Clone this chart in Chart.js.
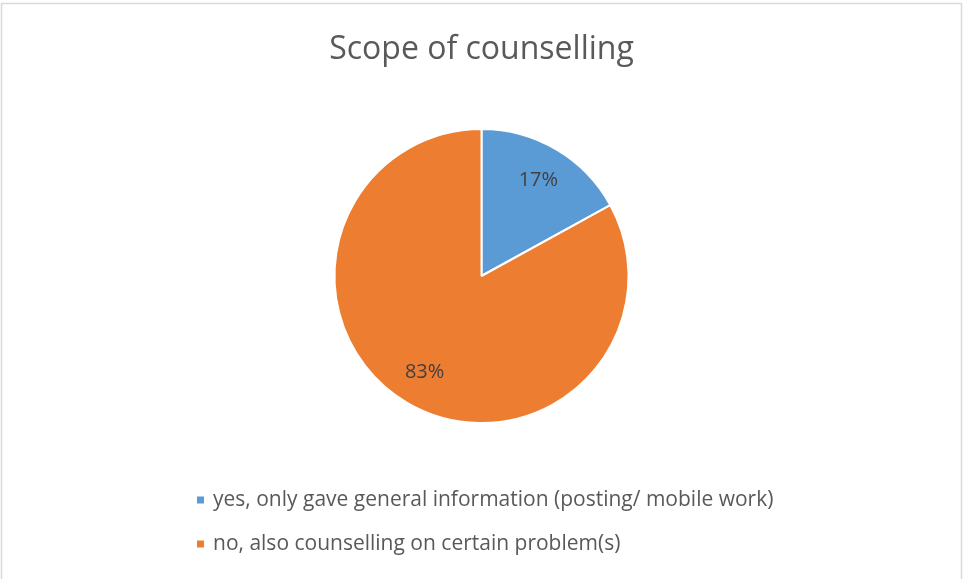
<!DOCTYPE html>
<html>
<head>
<meta charset="utf-8">
<script src="https://cdn.jsdelivr.net/npm/chart.js@4"></script>
<style>
html,body{margin:0;padding:0;background:#fff;}
#wrap{width:963px;height:579px;position:relative;}
</style>
</head>
<body>
<div id="wrap"><canvas id="c" width="963" height="579"></canvas></div>
<script>
const chartTitle = "Scope of counselling";
const categories = [
  "yes, only gave general information (posting/ mobile work)",
  "no, also counselling on certain problem(s)"
];
const shares = [17, 83];
const sliceColors = ["#5B9BD5", "#ED7D31"];

const textColor = "#595959";
const fontFamily = "'Open Sans', 'Liberation Sans', sans-serif";

const framePlugin = {
  id: 'frame',
  beforeDraw(chart) {
    const ctx = chart.ctx;
    ctx.save();
    ctx.fillStyle = '#fff';
    ctx.fillRect(0, 0, chart.width, chart.height);
    ctx.strokeStyle = '#D9D9D9';
    ctx.lineWidth = 1.5;
    ctx.beginPath();
    ctx.moveTo(1.5, chart.height);
    ctx.lineTo(1.5, 3.5);
    ctx.lineTo(961.5, 3.5);
    ctx.lineTo(961.5, chart.height);
    ctx.stroke();
    ctx.restore();
  }
};

const labelPlugin = {
  id: 'sliceLabels',
  afterDatasetsDraw(chart) {
    const ctx = chart.ctx;
    const meta = chart.getDatasetMeta(0);
    const data = chart.data.datasets[0].data;
    const total = data.reduce((a, b) => a + b, 0);
    ctx.save();
    ctx.font = "20px " + fontFamily;
    ctx.fillStyle = "#404040";
    ctx.textAlign = "center";
    ctx.textBaseline = "middle";
    meta.data.forEach((arc, i) => {
      const p = arc.getProps(['x', 'y', 'startAngle', 'endAngle', 'outerRadius'], true);
      const mid = (p.startAngle + p.endAngle) / 2;
      const r = p.outerRadius * 0.76;
      const x = p.x + Math.cos(mid) * r;
      const y = p.y + Math.sin(mid) * r;
      ctx.fillText(Math.round(data[i] / total * 100) + "%", x, y);
    });
    ctx.restore();
  }
};

const legendPlugin = {
  id: 'stackLegend',
  afterDraw(chart) {
    const ctx = chart.ctx;
    const labels = chart.data.labels;
    const colors = chart.data.datasets[0].backgroundColor;
    ctx.save();
    ctx.font = "21px " + fontFamily;
    ctx.textBaseline = "middle";
    ctx.textAlign = "left";
    labels.forEach((lab, i) => {
      const cy = 500 + i * 44;
      ctx.fillStyle = colors[i];
      ctx.fillRect(197, cy - 3.5, 7, 7);
      ctx.fillStyle = textColor;
      ctx.fillText(lab, 213, cy);
    });
    ctx.restore();
  }
};

new Chart(document.getElementById('c'), {
  type: 'pie',
  data: {
    labels: categories,
    datasets: [{
      data: shares,
      backgroundColor: sliceColors,
      borderColor: '#ffffff',
      borderWidth: 2
    }]
  },
  options: {
    responsive: false,
    animation: false,
    layout: { padding: { top: 0, bottom: 155, left: 0, right: 0 } },
    plugins: {
      legend: { display: false },
      tooltip: { enabled: false },
      title: {
        display: true,
        text: chartTitle,
        color: textColor,
        font: { family: fontFamily, size: 32, weight: 'normal', lineHeight: 1.2 },
        padding: { top: 31, bottom: 58.6 }
      }
    }
  },
  plugins: [framePlugin, labelPlugin, legendPlugin]
});
</script>
</body>
</html>
